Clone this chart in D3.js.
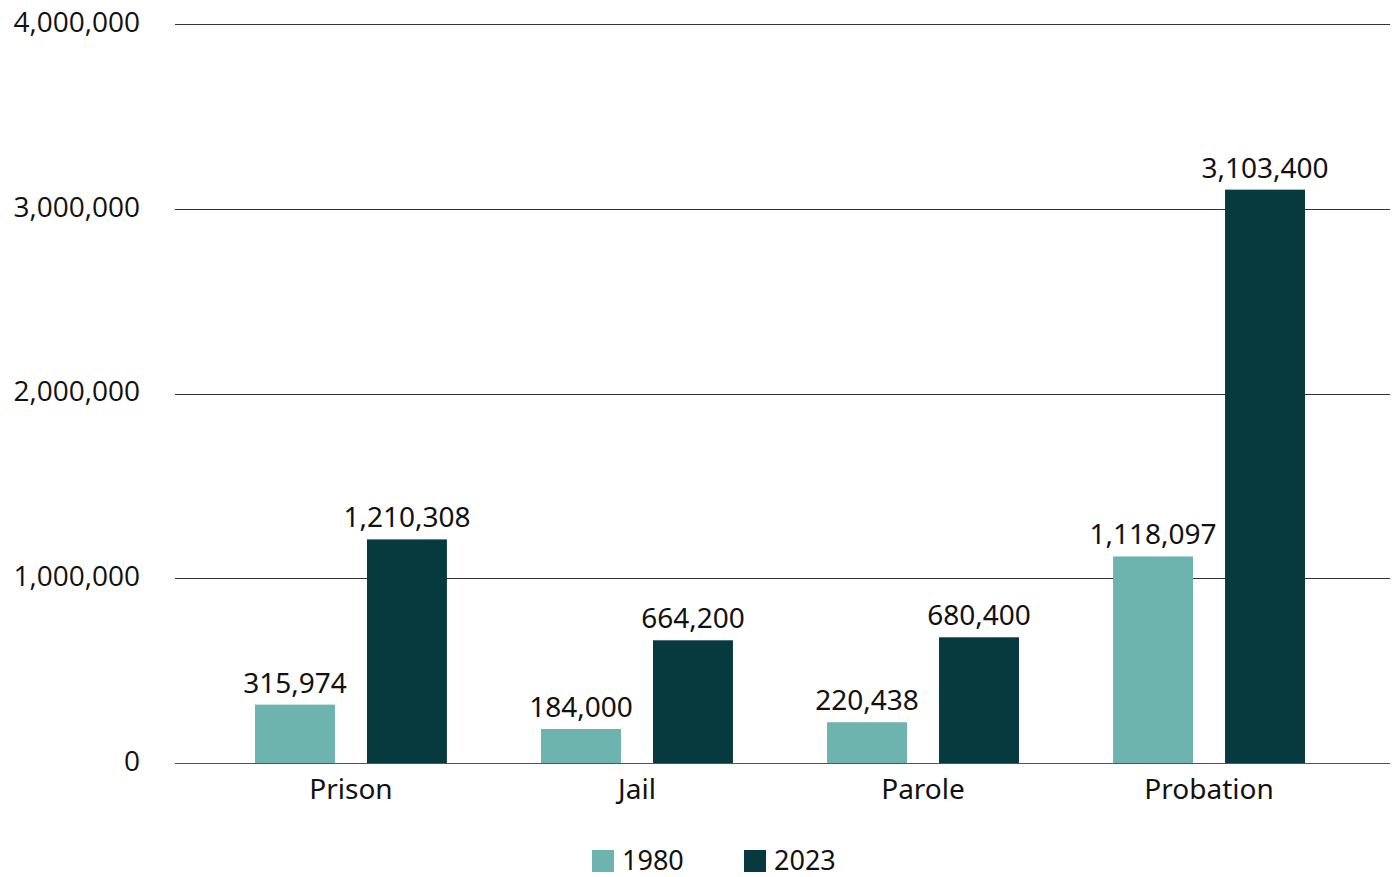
<!DOCTYPE html>
<html>
<head>
<meta charset="utf-8">
<script src="https://cdn.jsdelivr.net/npm/d3@7"></script>
<style>
  html, body { margin: 0; padding: 0; background: #fff; }
  svg { display: block; font-family: "Noto Sans", "Open Sans", sans-serif; }
</style>
</head>
<body>
<svg id="chart" width="1395" height="877"></svg>
<script>
// Correctional population by type of supervision, 1980 vs 2023
const categories = ["Prison", "Jail", "Parole", "Probation"];
const seriesNames = ["1980", "2023"];
const values1980 = [315974, 184000, 220438, 1118097];
const values2023 = [1210308, 664200, 680400, 3103400];
const yTicks = [0, 1000000, 2000000, 3000000, 4000000];
const colors = ["#6db3ae", "#073a3e"];

const svg = d3.select("#chart");
const fmt = d3.format(",");

const y = d3.scaleLinear().domain([0, 4000000]).range([763, 24]);
const x0 = d3.scaleBand().domain(categories).range([255, 1305]).paddingInner(0.329).paddingOuter(0);
const x1 = d3.scaleBand().domain(seriesNames).range([0, x0.bandwidth()]).paddingInner(0.286).paddingOuter(0);

// horizontal gridlines
svg.append("g")
  .selectAll("line")
  .data(yTicks)
  .join("line")
  .attr("x1", 175).attr("x2", 1390)
  .attr("y1", d => Math.round(y(d)) + 0.5)
  .attr("y2", d => Math.round(y(d)) + 0.5)
  .attr("stroke", d => d === 0 ? "#555" : "#333")
  .attr("stroke-width", 1);

// y tick labels
svg.append("g")
  .selectAll("text")
  .data(yTicks)
  .join("text")
  .attr("x", 140)
  .attr("y", d => y(d) - 2)
  .attr("dy", "0.35em")
  .attr("text-anchor", "end")
  .attr("font-family", "'Open Sans', sans-serif")
  .attr("font-size", 28)
  .attr("fill", "#111")
  .text(d => fmt(d));

const rows = categories.map((c, i) => ({
  category: c,
  bars: [
    { key: seriesNames[0], value: values1980[i] },
    { key: seriesNames[1], value: values2023[i] }
  ]
}));

const groups = svg.append("g")
  .selectAll("g")
  .data(rows)
  .join("g")
  .attr("transform", d => `translate(${x0(d.category)},0)`);

groups.selectAll("rect")
  .data(d => d.bars)
  .join("rect")
  .attr("x", d => x1(d.key))
  .attr("width", x1.bandwidth())
  .attr("y", d => y(d.value))
  .attr("height", d => y(0) - y(d.value))
  .attr("fill", (d, i) => colors[i]);

groups.selectAll("text.value")
  .data(d => d.bars)
  .join("text")
  .attr("class", "value")
  .attr("x", d => x1(d.key) + x1.bandwidth() / 2)
  .attr("y", d => y(d.value) - 12)
  .attr("text-anchor", "middle")
  .attr("font-size", 28)
  .attr("fill", "#111")
  .text(d => fmt(d.value));

// category labels
svg.append("g")
  .selectAll("text")
  .data(categories)
  .join("text")
  .attr("x", d => x0(d) + x0.bandwidth() / 2)
  .attr("y", 799)
  .attr("text-anchor", "middle")
  .attr("font-size", 28)
  .attr("fill", "#111")
  .text(d => d);

// legend
const legendX = [592, 744];
const legend = svg.append("g")
  .selectAll("g")
  .data(seriesNames)
  .join("g")
  .attr("transform", (d, i) => `translate(${legendX[i]},850)`);
legend.append("rect")
  .attr("width", 22).attr("height", 22)
  .attr("fill", (d, i) => colors[i]);
legend.append("text")
  .attr("x", 30).attr("y", 20)
  .attr("font-size", 27)
  .attr("fill", "#111")
  .text(d => d);
</script>
</body>
</html>
